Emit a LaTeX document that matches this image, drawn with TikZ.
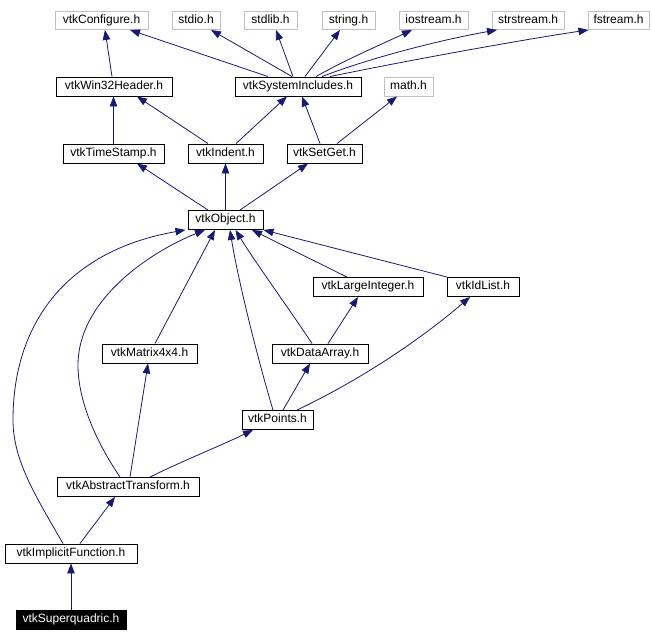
\documentclass[tikz,border=0pt]{standalone}
\usepackage{fontspec}
\setmainfont{Liberation Sans}
\usetikzlibrary{arrows.meta}
\definecolor{edgecol}{RGB}{25,25,112}
\definecolor{greyline}{RGB}{191,191,191}
\tikzset{
  nb/.style={draw=black, line width=0.9pt, fill=white, inner sep=0pt, minimum height=19pt, text height=8.6pt, text depth=3pt, font=\fontsize{12}{14}\selectfont, text=black},
  gb/.style={nb, draw=greyline},
  hb/.style={nb, fill=black, text=white},
  dep/.style={draw=edgecol, line width=0.8pt, -{Triangle[length=10pt,width=7.5pt]}}
}
\begin{document}
\begin{tikzpicture}[x=1pt,y=-1pt]
\useasboundingbox (0,0) rectangle (652,642);
% top row
\node[gb, minimum width=93pt, minimum height=18pt] (conf) at (101.5,20.5) {vtkConfigure.h};
\node[gb, minimum width=48pt, minimum height=18pt] (stdio) at (196,20.5) {stdio.h};
\node[gb, minimum width=53pt, minimum height=18pt] (stdlib) at (270.5,20.5) {stdlib.h};
\node[gb, minimum width=53pt, minimum height=18pt] (string) at (348.5,20.5) {string.h};
\node[gb, minimum width=69pt, minimum height=18pt] (iostream) at (433.5,20.5) {iostream.h};
\node[gb, minimum width=72pt, minimum height=18pt] (strstream) at (528,20.5) {strstream.h};
\node[gb, minimum width=61pt, minimum height=18pt] (fstream) at (618.5,20.5) {fstream.h};
% row 2
\node[nb, minimum width=116pt] (win32) at (114,86.5) {vtkWin32Header.h};
\node[nb, minimum width=126pt] (sysinc) at (298,86.5) {vtkSystemIncludes.h};
\node[gb, minimum width=49pt] (math) at (408.5,86.5) {math.h};
% row 3
\node[nb, minimum width=101pt] (timestamp) at (113.5,153.5) {vtkTimeStamp.h};
\node[nb, minimum width=75pt] (indent) at (225.5,153.5) {vtkIndent.h};
\node[nb, minimum width=75pt] (setget) at (324.5,153.5) {vtkSetGet.h};
% object
\node[nb, minimum width=75pt] (object) at (225.5,220) {vtkObject.h};
\node[nb, minimum width=110pt] (largeint) at (368,287) {vtkLargeInteger.h};
\node[nb, minimum width=72pt] (idlist) at (483,287) {vtkIdList.h};
\node[nb, minimum width=95pt] (matrix) at (149.5,353.5) {vtkMatrix4x4.h};
\node[nb, minimum width=96pt] (dataarray) at (320,353.5) {vtkDataArray.h};
\node[nb, minimum width=71pt] (points) at (277.5,420) {vtkPoints.h};
\node[nb, minimum width=142pt] (abstract) at (128,487) {vtkAbstractTransform.h};
\node[nb, minimum width=132pt] (implicit) at (71,553.5) {vtkImplicitFunction.h};
\node[hb, minimum width=110pt] (superq) at (71,620) {vtkSuperquadric.h};
% edges
\draw[dep] ([xshift=-2pt]win32.north) -- ([xshift=3.5pt]conf.south);
\draw[dep] ([xshift=-30pt]sysinc.north) -- ([xshift=28.5pt]conf.south);
\draw[dep] ([xshift=-6pt]sysinc.north) -- ([xshift=15pt]stdio.south);
\draw[dep] ([xshift=-5pt]sysinc.north) -- ([xshift=5.5pt]stdlib.south);
\draw[dep] ([xshift=7pt]sysinc.north) -- ([xshift=-8.5pt]string.south);
\draw[dep] ([xshift=18pt]sysinc.north) .. controls (345,60) and (380,45) .. ([xshift=-21.5pt]iostream.south);
\draw[dep] ([xshift=24pt]sysinc.north) .. controls (370,58) and (440,40) .. ([xshift=-31pt]strstream.south);
\draw[dep] ([xshift=32pt]sysinc.north) .. controls (400,62) and (520,40) .. ([xshift=-30pt]fstream.south);
\draw[dep] (timestamp.north) -- (timestamp.north |- win32.south);
\draw[dep] ([xshift=-17.5pt]indent.north) -- ([xshift=23pt]win32.south);
\draw[dep] ([xshift=10.5pt]indent.north) -- ([xshift=-11pt]sysinc.south);
\draw[dep] ([xshift=-4.5pt]setget.north) -- ([xshift=4pt]sysinc.south);
\draw[dep] ([xshift=12.5pt]setget.north) -- ([xshift=-11.5pt]math.south);
\draw[dep] ([xshift=-17.5pt]object.north) -- ([xshift=23.5pt]timestamp.south);
\draw[dep] (object.north) -- (indent.south);
\draw[dep] ([xshift=14.5pt]object.north) -- ([xshift=-16.5pt]setget.south);
\draw[dep] ([xshift=-21pt]largeint.north) -- ([xshift=26.5pt]object.south);
\draw[dep] ([xshift=-36pt]idlist.north) -- (object.south east);
\draw[dep] ([xshift=5.5pt]matrix.north) -- ([xshift=-10.5pt]object.south);
\draw[dep] ([xshift=-8pt]dataarray.north) .. controls (290,310) and (255,262) .. ([xshift=10pt]object.south);
\draw[dep] ([xshift=-4.5pt]points.north) .. controls (258,360) and (238,280) .. ([xshift=4.5pt]object.south);
\draw[dep] ([xshift=8pt]dataarray.north) -- ([xshift=-10pt]largeint.south);
\draw[dep] ([xshift=5.5pt]points.north) -- ([xshift=-10pt]dataarray.south);
\draw[dep] ([xshift=19.5pt]points.north) .. controls (360,380) and (420,340) .. ([xshift=-13pt]idlist.south);
\draw[dep] ([xshift=-8pt]abstract.north) .. controls (95,440) and (78,400) .. (78,365) .. controls (78,300) and (150,252) .. ([xshift=-20.5pt]object.south);
\draw[dep] ([xshift=2pt]abstract.north) -- ([xshift=-1.5pt]matrix.south);
\draw[dep] ([xshift=22pt]abstract.north) .. controls (180,462) and (220,446) .. ([xshift=-24.5pt]points.south);
\draw[dep] ([xshift=-8pt]implicit.north) .. controls (35,495) and (13,460) .. (13,420) .. controls (13,320) and (70,250) .. ([xshift=-40pt]object.south);
\draw[dep] ([xshift=9pt]implicit.north) -- ([xshift=-13pt]abstract.south);
\draw[dep] (superq.north) -- (implicit.south);
\end{tikzpicture}
\end{document}
